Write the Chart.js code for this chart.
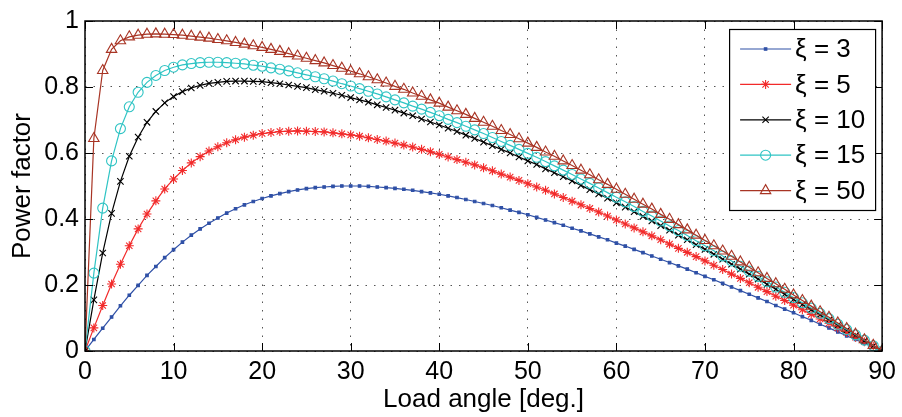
<!DOCTYPE html>
<html>
<head>
<meta charset="utf-8">
<script src="https://cdn.jsdelivr.net/npm/chart.js"></script>
<style>
  html, body { margin: 0; padding: 0; background: #fff; }
  #wrap { width: 902px; height: 417px; }
</style>
</head>
<body>
<div id="wrap"><canvas id="pfChart" width="902" height="417"></canvas></div>
<script>
const loadAngle = [
  0, 1, 2, 3, 4, 5, 6, 7, 8, 9,
  10, 11, 12, 13, 14, 15, 16, 17, 18, 19,
  20, 21, 22, 23, 24, 25, 26, 27, 28, 29,
  30, 31, 32, 33, 34, 35, 36, 37, 38, 39,
  40, 41, 42, 43, 44, 45, 46, 47, 48, 49,
  50, 51, 52, 53, 54, 55, 56, 57, 58, 59,
  60, 61, 62, 63, 64, 65, 66, 67, 68, 69,
  70, 71, 72, 73, 74, 75, 76, 77, 78, 79,
  80, 81, 82, 83, 84, 85, 86, 87, 88, 89,
  90
];

const pfXi3 = [
  0, 0.035, 0.069, 0.103, 0.137, 0.169, 0.199, 0.229, 0.256, 0.283,
  0.307, 0.330, 0.351, 0.370, 0.387, 0.403, 0.418, 0.431, 0.443, 0.453,
  0.462, 0.470, 0.477, 0.483, 0.488, 0.492, 0.495, 0.497, 0.499, 0.500,
  0.500, 0.500, 0.499, 0.497, 0.495, 0.493, 0.490, 0.487, 0.483, 0.479,
  0.475, 0.470, 0.465, 0.459, 0.453, 0.447, 0.441, 0.434, 0.427, 0.420,
  0.413, 0.405, 0.397, 0.389, 0.381, 0.372, 0.364, 0.355, 0.346, 0.337,
  0.327, 0.318, 0.308, 0.298, 0.288, 0.278, 0.268, 0.258, 0.248, 0.237,
  0.226, 0.216, 0.205, 0.194, 0.183, 0.172, 0.161, 0.150, 0.138, 0.127,
  0.116, 0.104, 0.093, 0.081, 0.070, 0.058, 0.046, 0.035, 0.023, 0.012,
  0
];

const pfXi5 = [
  0, 0.070, 0.138, 0.203, 0.263, 0.319, 0.370, 0.415, 0.455, 0.491,
  0.521, 0.547, 0.570, 0.589, 0.606, 0.619, 0.631, 0.640, 0.648, 0.654,
  0.659, 0.662, 0.665, 0.666, 0.667, 0.666, 0.665, 0.664, 0.661, 0.658,
  0.655, 0.651, 0.646, 0.641, 0.636, 0.630, 0.624, 0.618, 0.611, 0.604,
  0.596, 0.588, 0.580, 0.572, 0.564, 0.555, 0.546, 0.536, 0.527, 0.517,
  0.507, 0.497, 0.487, 0.476, 0.465, 0.454, 0.443, 0.432, 0.421, 0.409,
  0.397, 0.385, 0.373, 0.361, 0.349, 0.337, 0.324, 0.311, 0.299, 0.286,
  0.273, 0.260, 0.247, 0.233, 0.220, 0.207, 0.193, 0.180, 0.166, 0.153,
  0.139, 0.125, 0.111, 0.097, 0.084, 0.070, 0.056, 0.042, 0.028, 0.014,
  0
];

const pfXi10 = [
  0, 0.155, 0.297, 0.417, 0.514, 0.590, 0.648, 0.693, 0.726, 0.752,
  0.771, 0.786, 0.797, 0.805, 0.811, 0.814, 0.817, 0.818, 0.818, 0.817,
  0.816, 0.813, 0.810, 0.806, 0.802, 0.798, 0.792, 0.787, 0.781, 0.775,
  0.768, 0.761, 0.754, 0.746, 0.738, 0.730, 0.721, 0.713, 0.703, 0.694,
  0.685, 0.675, 0.665, 0.654, 0.644, 0.633, 0.622, 0.611, 0.600, 0.588,
  0.576, 0.565, 0.552, 0.540, 0.528, 0.515, 0.502, 0.489, 0.476, 0.463,
  0.449, 0.436, 0.422, 0.408, 0.394, 0.380, 0.366, 0.351, 0.337, 0.322,
  0.308, 0.293, 0.278, 0.263, 0.248, 0.233, 0.218, 0.202, 0.187, 0.172,
  0.156, 0.141, 0.125, 0.110, 0.094, 0.078, 0.063, 0.047, 0.031, 0.016,
  0
];

const pfXi15 = [
  0, 0.236, 0.433, 0.576, 0.674, 0.740, 0.784, 0.814, 0.835, 0.850,
  0.860, 0.867, 0.871, 0.874, 0.875, 0.875, 0.874, 0.872, 0.870, 0.866,
  0.863, 0.858, 0.854, 0.849, 0.843, 0.837, 0.831, 0.825, 0.818, 0.810,
  0.803, 0.795, 0.787, 0.779, 0.770, 0.761, 0.752, 0.742, 0.733, 0.723,
  0.713, 0.702, 0.692, 0.681, 0.670, 0.659, 0.647, 0.635, 0.623, 0.611,
  0.599, 0.587, 0.574, 0.561, 0.548, 0.535, 0.521, 0.508, 0.494, 0.480,
  0.466, 0.452, 0.438, 0.423, 0.409, 0.394, 0.379, 0.365, 0.350, 0.334,
  0.319, 0.304, 0.288, 0.273, 0.257, 0.242, 0.226, 0.210, 0.194, 0.178,
  0.162, 0.146, 0.130, 0.114, 0.098, 0.081, 0.065, 0.049, 0.033, 0.016,
  0
];

const pfXi50 = [
  0, 0.644, 0.850, 0.914, 0.940, 0.952, 0.957, 0.960, 0.961, 0.960,
  0.959, 0.957, 0.954, 0.951, 0.948, 0.944, 0.940, 0.935, 0.930, 0.925,
  0.920, 0.914, 0.908, 0.901, 0.894, 0.887, 0.880, 0.873, 0.865, 0.857,
  0.848, 0.840, 0.831, 0.822, 0.812, 0.802, 0.793, 0.782, 0.772, 0.761,
  0.751, 0.739, 0.728, 0.717, 0.705, 0.693, 0.681, 0.668, 0.656, 0.643,
  0.630, 0.617, 0.603, 0.590, 0.576, 0.562, 0.548, 0.534, 0.519, 0.505,
  0.490, 0.475, 0.460, 0.445, 0.430, 0.414, 0.399, 0.383, 0.367, 0.351,
  0.335, 0.319, 0.303, 0.287, 0.270, 0.254, 0.237, 0.220, 0.204, 0.187,
  0.170, 0.153, 0.136, 0.119, 0.102, 0.085, 0.068, 0.051, 0.034, 0.017,
  0
];

const seriesLabels = ['ξ = 3', 'ξ = 5', 'ξ = 10', 'ξ = 15', 'ξ = 50'];
const xTicks = [0, 10, 20, 30, 40, 50, 60, 70, 80, 90];
const yTicks = [0, 0.2, 0.4, 0.6, 0.8, 1];

const FONT = 'Liberation Sans, Arial, Helvetica, sans-serif';

function toPoints(vals) {
  return loadAngle.map((a, i) => ({ x: a, y: vals[i] }));
}

function series(label, vals, color, style, radius, fill, order) {
  return {
    label: label,
    data: toPoints(vals),
    borderColor: color,
    borderWidth: 1.2,
    backgroundColor: fill ? color : 'rgba(0,0,0,0)',
    pointStyle: style,
    pointRadius: radius,
    pointBorderColor: color,
    pointBackgroundColor: fill ? color : 'rgba(0,0,0,0)',
    pointBorderWidth: 1.1,
    pointHoverRadius: radius,
    tension: 0,
    fill: false,
    order: order
  };
}

// box around the plot + inward tick marks on all four sides (matlab look)
const frameTicks = {
  id: 'frameTicks',
  afterDatasetsDraw(chart) {
    const { ctx, chartArea: a, scales } = chart;
    const len = 8;
    ctx.save();
    ctx.strokeStyle = '#000';
    ctx.lineWidth = 1.5;
    ctx.strokeRect(a.left, a.top, a.right - a.left, a.bottom - a.top);
    ctx.lineWidth = 1;
    ctx.beginPath();
    xTicks.forEach(v => {
      const px = Math.round(scales.x.getPixelForValue(v)) + 0.5;
      ctx.moveTo(px, a.bottom); ctx.lineTo(px, a.bottom - len);
      ctx.moveTo(px, a.top); ctx.lineTo(px, a.top + len);
    });
    yTicks.forEach(v => {
      const py = Math.round(scales.y.getPixelForValue(v)) + 0.5;
      ctx.moveTo(a.left, py); ctx.lineTo(a.left + len, py);
      ctx.moveTo(a.right, py); ctx.lineTo(a.right - len, py);
    });
    ctx.stroke();
    ctx.restore();
  }
};

// legend box in the upper right corner, line sample with marker
const boxLegend = {
  id: 'boxLegend',
  afterDraw(chart) {
    const { ctx, chartArea: a } = chart;
    const w = 146, h = 181;
    const x0 = a.right - 7 - w;
    const y0 = a.top + 8;
    ctx.save();
    ctx.fillStyle = '#fff';
    ctx.fillRect(x0, y0, w, h);
    ctx.strokeStyle = '#000';
    ctx.lineWidth = 1.2;
    ctx.strokeRect(x0 + 0.5, y0 + 0.5, w, h);

    chart.data.datasets.forEach((ds, i) => {
      const cy = y0 + 20 + i * 35.4;
      const lx1 = x0 + 11, lx2 = x0 + 62;
      ctx.strokeStyle = ds.borderColor;
      ctx.lineWidth = 1.2;
      ctx.beginPath();
      ctx.moveTo(lx1, cy);
      ctx.lineTo(lx2, cy);
      ctx.stroke();
      if (Chart.helpers && Chart.helpers.drawPoint) {
        ctx.fillStyle = ds.pointBackgroundColor;
        ctx.strokeStyle = ds.pointBorderColor;
        ctx.lineWidth = 1.1;
        Chart.helpers.drawPoint(ctx, {
          pointStyle: ds.pointStyle,
          radius: ds.pointRadius,
          rotation: 0,
          borderWidth: 1.1
        }, (lx1 + lx2) / 2, cy);
      }
      ctx.fillStyle = '#000';
      ctx.font = '26px ' + FONT;
      ctx.textBaseline = 'middle';
      ctx.textAlign = 'left';
      ctx.fillText(ds.label, x0 + 66, cy + 1);
    });
    ctx.restore();
  }
};

new Chart(document.getElementById('pfChart'), {
  type: 'line',
  data: {
    datasets: [
      series(seriesLabels[0], pfXi3, '#2f50a6', 'rect', 1.8, true, 5),
      series(seriesLabels[1], pfXi5, '#f22a2a', 'star', 4.5, false, 4),
      series(seriesLabels[2], pfXi10, '#000000', 'crossRot', 4.5, false, 3),
      series(seriesLabels[3], pfXi15, '#2fc4c4', 'circle', 5, false, 2),
      series(seriesLabels[4], pfXi50, '#a83424', 'triangle', 6, false, 1)
    ]
  },
  options: {
    responsive: false,
    animation: false,
    devicePixelRatio: 1,
    layout: { padding: { top: 15, right: 16, left: 0, bottom: 0 } },
    plugins: {
      legend: { display: false },
      tooltip: { enabled: false }
    },
    scales: {
      x: {
        type: 'linear',
        min: 0,
        max: 90,
        afterBuildTicks: scale => { scale.ticks = xTicks.map(v => ({ value: v })); },
        afterFit: scale => { scale.height = 66; },
        grid: { color: '#555', lineWidth: 1, drawTicks: false },
        border: { display: false, dash: [1.5, 7] },
        ticks: {
          color: '#000',
          padding: 6,
          maxRotation: 0,
          font: { family: FONT, size: 25 }
        },
        title: {
          display: true,
          text: 'Load angle [deg.]',
          color: '#000',
          padding: { top: 0, bottom: 2 },
          font: { family: FONT, size: 26 }
        }
      },
      y: {
        min: 0,
        max: 1,
        afterBuildTicks: scale => { scale.ticks = yTicks.map(v => ({ value: v })); },
        afterFit: scale => { scale.width = 85; },
        grid: { color: '#555', lineWidth: 1, drawTicks: false },
        border: { display: false, dash: [1.5, 7] },
        ticks: {
          color: '#000',
          padding: 6,
          font: { family: FONT, size: 25 },
          callback: v => String(Math.round(v * 10) / 10)
        },
        title: {
          display: true,
          text: 'Power factor',
          color: '#000',
          padding: { top: 7, bottom: 0 },
          font: { family: FONT, size: 26 }
        }
      }
    }
  },
  plugins: [frameTicks, boxLegend]
});
</script>
</body>
</html>
